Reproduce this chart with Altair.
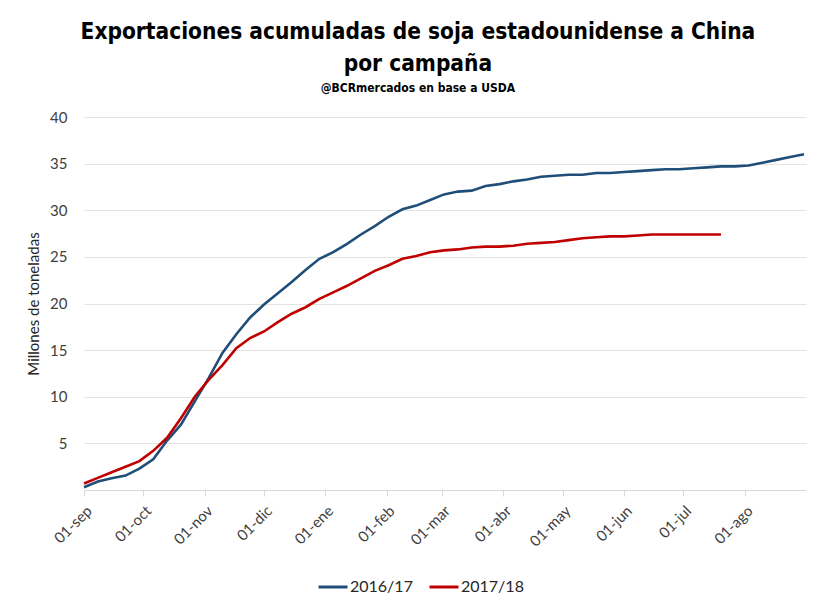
import altair as alt
import pandas as pd

# Days since 01-sep (weekly readings)
days_1617 = list(range(0, 365, 7))
vals_1617 = [0.3, 0.9, 1.25, 1.55, 2.3, 3.3, 5.3, 7.0, 9.5, 12.0,
             14.7, 16.7, 18.5, 19.9, 21.1, 22.3, 23.6, 24.8, 25.5, 26.4,
             27.4, 28.3, 29.3, 30.1, 30.5, 31.1, 31.7, 32.0, 32.1, 32.6,
             32.8, 33.1, 33.3, 33.6, 33.7, 33.8, 33.8, 34.0, 34.0, 34.1,
             34.2, 34.3, 34.4, 34.4, 34.5, 34.6, 34.7, 34.7, 34.8, 35.1,
             35.4, 35.7, 36.0]
vals_1718 = [0.7, 1.3, 1.9, 2.5, 3.1, 4.2, 5.6, 7.7, 10.0, 11.8,
             13.4, 15.2, 16.3, 17.0, 18.0, 18.9, 19.6, 20.5, 21.2, 21.9,
             22.7, 23.5, 24.1, 24.8, 25.1, 25.5, 25.7, 25.8, 26.0, 26.1,
             26.1, 26.2, 26.4, 26.5, 26.6, 26.8, 27.0, 27.1, 27.2, 27.2,
             27.3, 27.4, 27.4, 27.4, 27.4, 27.4, 27.4]
days_1718 = days_1617[:len(vals_1718)]

month_days = [0, 30, 61, 91, 122, 153, 181, 212, 242, 273, 303, 334]
month_labels = ["01-sep", "01-oct", "01-nov", "01-dic", "01-ene", "01-feb",
                "01-mar", "01-abr", "01-may", "01-jun", "01-jul", "01-ago"]
y_ticks = [5, 10, 15, 20, 25, 30, 35, 40]
series = ["2016/17", "2017/18"]
colors = ["#1F4E79", "#C00000"]

df = pd.concat([
    pd.DataFrame({"dia": days_1617, "valor": vals_1617, "campaña": series[0]}),
    pd.DataFrame({"dia": days_1718, "valor": vals_1718, "campaña": series[1]}),
])

label_expr = ("[" + ",".join("'%s'" % l for l in month_labels) + "][indexof(["
              + ",".join(str(d) for d in month_days) + "], datum.value)]")

title_font = "'Liberation Sans Narrow', 'DejaVu Sans Condensed', 'Arial Narrow', sans-serif"

chart = alt.Chart(df).mark_line(strokeWidth=2.6).encode(
    x=alt.X("dia:Q", scale=alt.Scale(domain=[0, 365], nice=False, zero=False),
            axis=alt.Axis(values=month_days, labelExpr=label_expr, title=None,
                          grid=False, labelAngle=315, labelFont="Lato",
                          labelFontSize=15, labelColor="#404040",
                          domainColor="#D9D9D9", tickColor="#D9D9D9",
                          tickSize=6, labelPadding=7)),
    y=alt.Y("valor:Q", scale=alt.Scale(domain=[0, 40], nice=False),
            axis=alt.Axis(values=y_ticks, title="Millones de toneladas",
                          titleFont="Lato", titleFontSize=15,
                          titleFontWeight="normal", titleColor="#262626",
                          titlePadding=8, labelFont="Lato", labelFontSize=15,
                          labelColor="#404040", domain=False, ticks=False,
                          labelPadding=17, gridColor="#E3E3E3")),
    color=alt.Color("campaña:N", scale=alt.Scale(domain=series, range=colors),
                    legend=alt.Legend(title=None, orient="none",
                                      legendX=233, legendY=454,
                                      direction="horizontal",
                                      symbolType="stroke", symbolSize=840,
                                      symbolStrokeWidth=3, labelFont="Lato",
                                      labelFontSize=16, labelColor="#262626",
                                      labelOffset=1, columnPadding=10)),
).properties(
    width=722, height=373,
    padding={"left": 18, "top": 12, "right": 5, "bottom": 5},
    title=alt.TitleParams(
        text=["Exportaciones acumuladas de soja estadounidense a China",
              "por campaña"],
        subtitle="@BCRmercados en base a USDA",
        font=title_font, fontSize=22.5, fontWeight="bold",
        color="#000000", lineHeight=32, subtitleFont=title_font,
        subtitleFontSize=12, subtitleFontWeight="bold", subtitleColor="#000000",
        anchor="middle", frame="bounds", offset=16, subtitlePadding=8),
).configure_view(stroke=None)

chart.save("out.html", embed_options={"renderer": "svg", "actions": False})
